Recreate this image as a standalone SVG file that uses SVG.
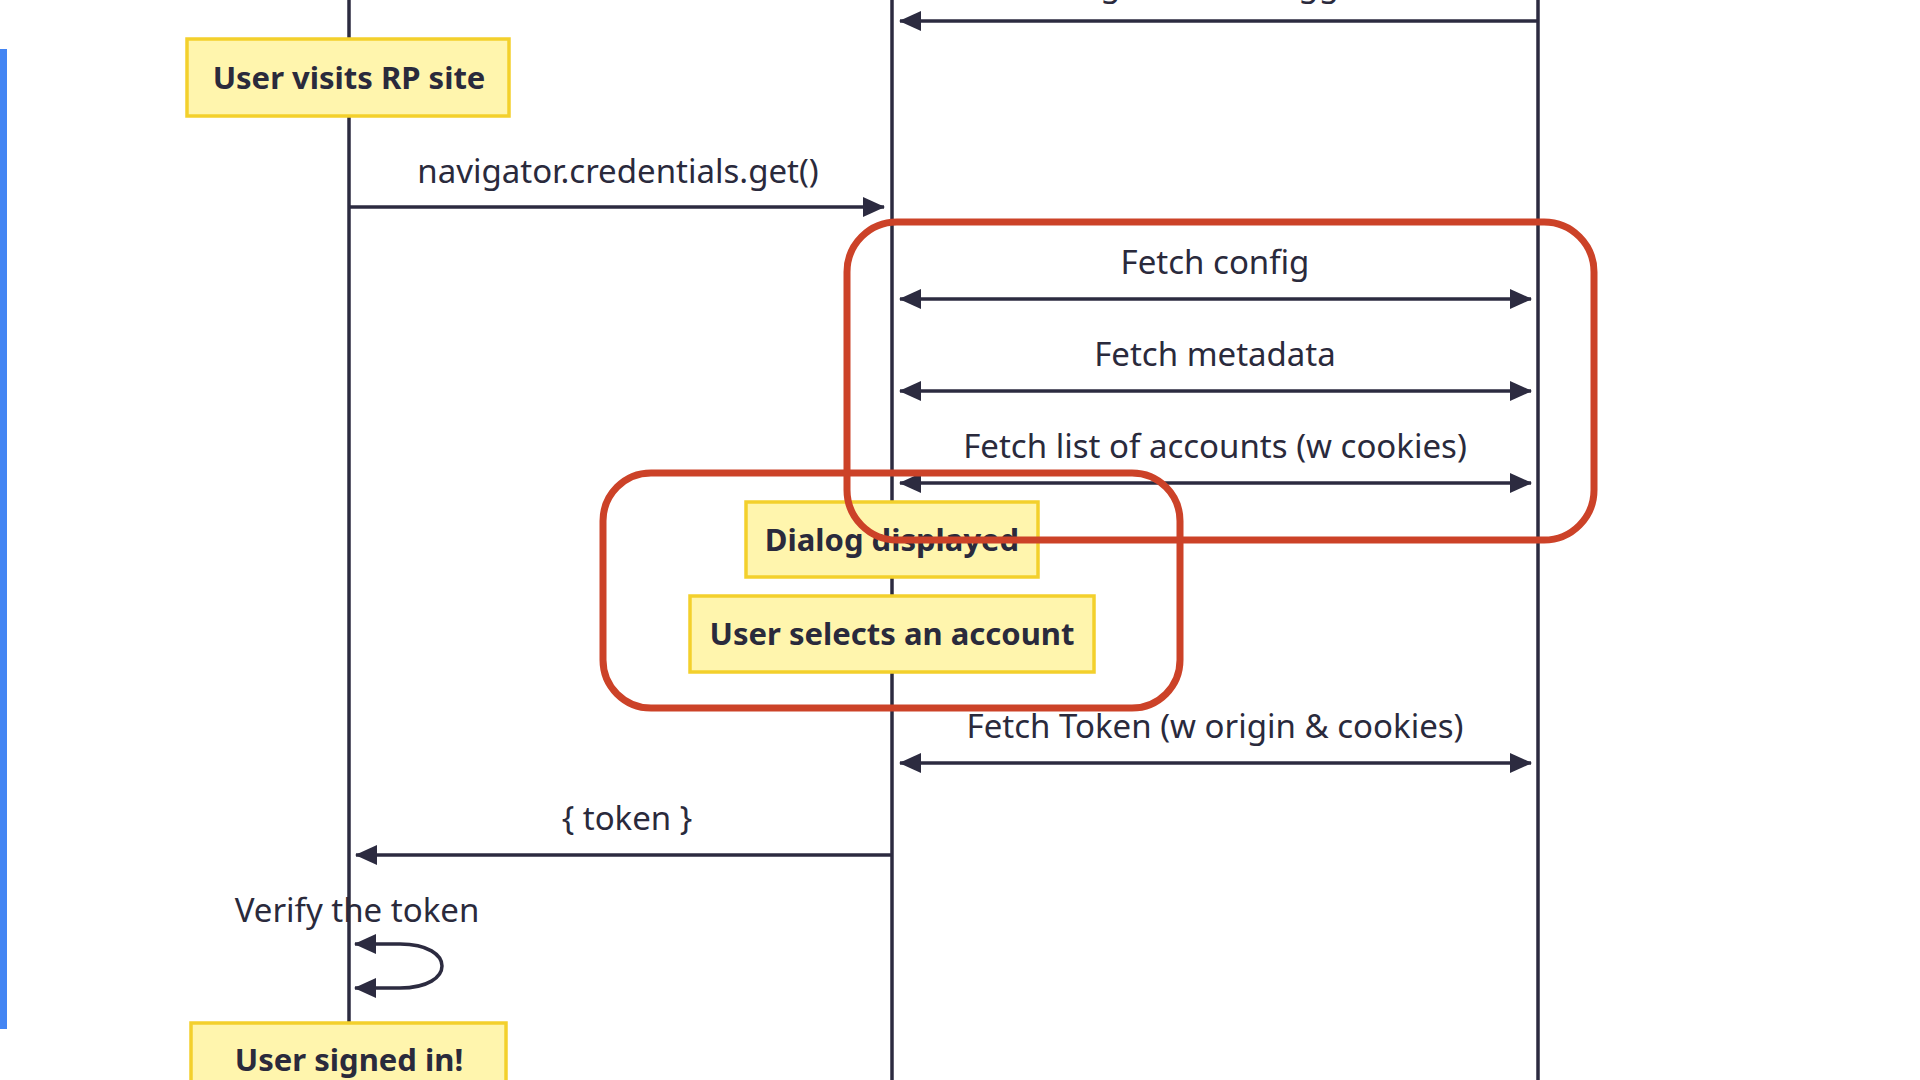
<svg xmlns="http://www.w3.org/2000/svg" width="1920" height="1080" viewBox="0 0 1920 1080">
  <style>
    .life { stroke: #2c2b40; stroke-width: 3.5; fill: none; }
    .note rect { fill: #fff5ad; stroke: #f3d02c; stroke-width: 3.5; }
    .note text { font-family: "Noto Sans", "Open Sans", sans-serif; font-weight: 700; font-size: 31px; fill: #2a2a3c; text-anchor: middle; }
    .lbl { font-family: "Noto Sans", "Open Sans", sans-serif; font-size: 33px; fill: #2a2a3c; text-anchor: middle; }
    .msg { stroke: #2c2b40; stroke-width: 3.5; fill: none; }
    .hl { fill: none; stroke: #cc4228; stroke-width: 7; }
  </style>
  <defs>
    <marker id="ah" markerUnits="userSpaceOnUse" markerWidth="22" markerHeight="20" refX="21" refY="10" orient="auto-start-reverse" viewBox="0 0 22 20">
      <path d="M0,0 L22,10 L0,20 z" fill="#2c2b40"/>
    </marker>
  </defs>
  <rect x="0" y="0" width="1920" height="1080" fill="#ffffff"/>
  <rect x="0" y="49" width="7" height="980" fill="#4385f3"/>

  <g id="lifelines">
    <line class="life" x1="349" y1="0" x2="349" y2="1080"/>
    <line class="life" x1="892" y1="0" x2="892" y2="1080"/>
    <line class="life" x1="1538" y1="0" x2="1538" y2="1080"/>
  </g>

  <g id="connectors">
    <text class="lbl" x="1215" y="-4">Set login status: logged in</text>
    <line class="msg" x1="1538" y1="21" x2="900" y2="21" marker-end="url(#ah)"/>

    <text class="lbl" x="618" y="183">navigator.credentials.get()</text>
    <line class="msg" x1="349" y1="207" x2="884" y2="207" marker-end="url(#ah)"/>

    <text class="lbl" x="1215" y="274">Fetch config</text>
    <line class="msg" x1="900" y1="299" x2="1531" y2="299" marker-start="url(#ah)" marker-end="url(#ah)"/>

    <text class="lbl" x="1215" y="366">Fetch metadata</text>
    <line class="msg" x1="900" y1="391" x2="1531" y2="391" marker-start="url(#ah)" marker-end="url(#ah)"/>

    <text class="lbl" x="1215" y="458">Fetch list of accounts (w cookies)</text>
    <line class="msg" x1="900" y1="483" x2="1531" y2="483" marker-start="url(#ah)" marker-end="url(#ah)"/>

    <text class="lbl" x="1215" y="738">Fetch Token (w origin &amp; cookies)</text>
    <line class="msg" x1="900" y1="763" x2="1531" y2="763" marker-start="url(#ah)" marker-end="url(#ah)"/>

    <text class="lbl" x="627" y="830">{ token }</text>
    <line class="msg" x1="892" y1="855" x2="356" y2="855" marker-end="url(#ah)"/>

    <text class="lbl" x="357" y="922">Verify the token</text>
    <path class="msg" d="M355,944 L400,944 C456,944 456,988 400,988 L355,988" marker-start="url(#ah)" marker-end="url(#ah)"/>
  </g>

  <g id="note-visit" class="note">
    <rect x="187" y="39" width="322" height="77"/>
    <text x="349" y="89">User visits RP site</text>
  </g>
  <g id="note-dialog" class="note">
    <rect x="746" y="502" width="292" height="75"/>
    <text x="892" y="551">Dialog displayed</text>
  </g>
  <g id="note-select" class="note">
    <rect x="690" y="596" width="404" height="76"/>
    <text x="892" y="645">User selects an account</text>
  </g>
  <g id="note-signed" class="note">
    <rect x="191" y="1023" width="315" height="80"/>
    <text x="349" y="1071">User signed in!</text>
  </g>

  <g id="highlights">
    <rect id="hl-fetch" class="hl" x="847" y="222" width="747" height="318" rx="50" ry="50"/>
    <rect id="hl-dialog" class="hl" x="603" y="473" width="577" height="235" rx="48" ry="48"/>
  </g>
</svg>
